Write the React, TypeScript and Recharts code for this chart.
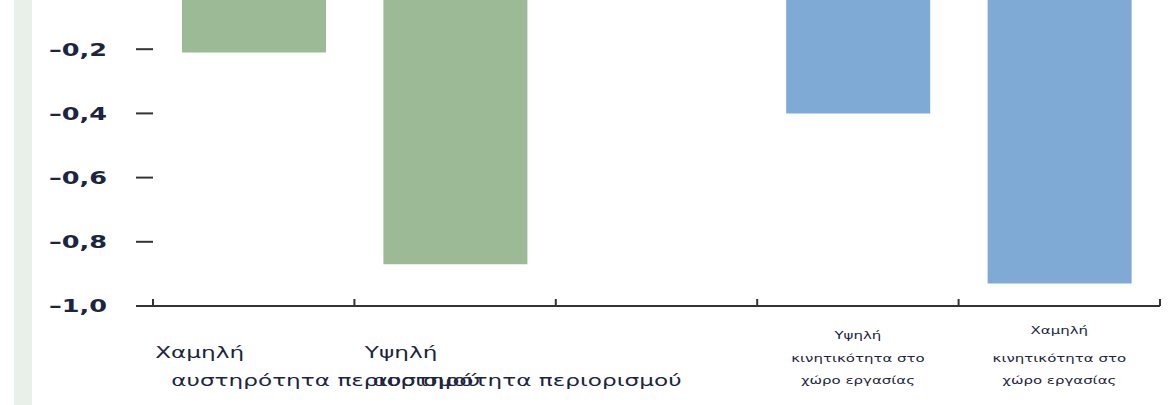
import { BarChart, Bar, XAxis, YAxis } from 'recharts'

// categories along the axis (third slot is an empty spacer)
const categories = ['restrictLow', 'restrictHigh', 'gap', 'mobilityHigh', 'mobilityLow']

// label lines under each category
const labelLines: string[][] = [
  ['Χαμηλή', 'αυστηρότητα περιορισμού'],
  ['Υψηλή', 'αυστηρότητα περιορισμού'],
  [],
  ['Υψηλή', 'κινητικότητα στο', 'χώρο εργασίας'],
  ['Χαμηλή', 'κινητικότητα στο', 'χώρο εργασίας'],
]

// series values (green = restriction severity, blue = workplace mobility)
const restrictionValues = [-0.21, -0.87, null, null, null]
const mobilityValues = [null, null, null, -0.4, -0.93]

const yTicks = [-1.0, -0.8, -0.6, -0.4, -0.2]

const data = categories.map((name, i) => ({
  name,
  restriction: restrictionValues[i],
  mobility: mobilityValues[i],
}))

const TEXT = '#1b2540'
const FONT = '"DejaVu Sans", Verdana, sans-serif'
const STRETCH = 1.42

const fmt = (v: number) => v.toFixed(1).replace('.', ',').replace('-', '\u2013')

const YTick = ({ x, y, payload }: any) => (
  <g transform={`translate(${x},${y}) scale(${STRETCH},1)`}>
    <text textAnchor="end" dy="0.36em" fill={TEXT} fontSize={18} fontWeight="bold" fontFamily={FONT}>
      {fmt(payload.value)}
    </text>
  </g>
)

// small upward ticks sit on the category boundaries, not the centres
const EdgeTick = ({ x, y }: { x: number; y: number }) => (
  <line x1={x} x2={x} y1={y - 7} y2={y} stroke="#333" strokeWidth={2} />
)

const CatTick = ({ x, y, index, payload, visibleTicksCount }: any) => {
  const lines = labelLines[index] || []
  const half = payload?.offset || 0
  const edges = (
    <>
      <EdgeTick x={x - half} y={y} />
      {index === visibleTicksCount - 1 && <EdgeTick x={x + half} y={y} />}
    </>
  )
  if (lines.length === 2) {
    // big two-row labels under the green bars
    return (
      <g fill={TEXT} fontFamily={FONT}>
        {edges}
        <g transform={`translate(${x - 54},${y + 46}) scale(1.45,1)`}>
          <text textAnchor="middle" dy="0.36em" fontSize={16}>{lines[0]}</text>
        </g>
        <g transform={`translate(${x + 72},${y + 74}) scale(1.45,1)`}>
          <text textAnchor="middle" dy="0.36em" fontSize={16}>{lines[1]}</text>
        </g>
      </g>
    )
  }
  const rows = [index === 4 ? 24 : 29, 52, 74]
  return (
    <g fill={TEXT} fontFamily={FONT}>
      {edges}
      {lines.map((line, i) => (
        <g key={i} transform={`translate(${x},${y + rows[i]}) scale(1.36,1)`}>
          <text textAnchor="middle" dy="0.36em" fontSize={11}>{line}</text>
        </g>
      ))}
    </g>
  )
}

const Empty = () => <g />

export default function App() {
  return (
    <div style={{ position: 'absolute', left: 0, top: 0, width: 1170, height: 405, overflow: 'hidden', background: '#fff' }}>
      <div style={{ position: 'absolute', left: 14, top: 0, width: 18, height: 405, background: '#e9f0ea' }} />
      <div style={{ position: 'absolute', left: 0, top: -30 }}>
        <BarChart width={1230} height={436} data={data} margin={{ top: 15, right: 0, bottom: 0, left: 0 }}>
          <XAxis
            xAxisId="cat"
            dataKey="name"
            height={100}
            tickSize={0}
            tickMargin={0}
            tickLine={false}
            axisLine={{ stroke: '#333', strokeWidth: 2 }}
            tick={<CatTick />}
            interval={0}
          />
          <YAxis
            yAxisId="left"
            width={153}
            domain={[-1, 0]}
            ticks={yTicks}
            axisLine={false}
            tickSize={17}
            tickMargin={29}
            tickLine={{ stroke: '#333', strokeWidth: 2 }}
            tick={<YTick />}
          />
          <YAxis
            yAxisId="right"
            orientation="right"
            width={70}
            domain={[-1, 0]}
            ticks={yTicks}
            axisLine={false}
            tickSize={17}
            tickLine={{ stroke: '#444', strokeWidth: 2 }}
            tick={<Empty />}
          />
          <Bar xAxisId="cat" yAxisId="left" dataKey="restriction" stackId="s" fill="#9dba96" barSize={144} isAnimationActive={false} />
          <Bar xAxisId="cat" yAxisId="left" dataKey="mobility" stackId="s" fill="#7faad5" barSize={144} isAnimationActive={false} />
        </BarChart>
      </div>
    </div>
  )
}
